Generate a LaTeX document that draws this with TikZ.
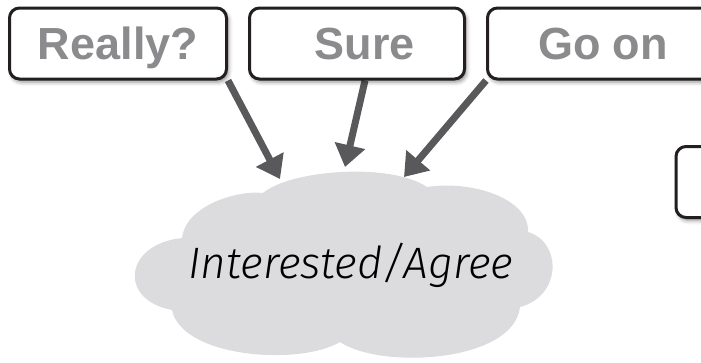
\documentclass[tikz,border=0pt]{standalone}
\usepackage{fontspec}
\setmainfont{Liberation Sans}
\newfontfamily\handfont{Fira Sans Light Italic}
\usetikzlibrary{arrows.meta,shadows.blur,backgrounds}
\definecolor{boxtext}{HTML}{8B8B8E}
\definecolor{arrowgray}{HTML}{59595B}
\definecolor{cloudgray}{HTML}{DCDCDE}
\definecolor{outline}{HTML}{231F20}
\begin{document}
\begin{tikzpicture}[x=1pt,y=-1pt,
  answer/.style={draw=outline, line width=3pt, rounded corners=10pt, fill=white,
    minimum height=71pt, inner sep=0pt, text=boxtext,
    font=\bfseries\fontsize{45}{45}\selectfont, text height=32.4pt, text depth=0pt,
    blur shadow={shadow xshift=2pt, shadow yshift=-3pt, shadow blur radius=4pt, shadow opacity=45}},
  pointer/.style={draw=arrowgray, line width=7pt, -{Triangle[length=22pt,width=30pt]}}]
\useasboundingbox (0,0) rectangle (701,362);
\clip (0,0) rectangle (701,362);

% answer boxes
\node[answer, minimum width=217pt] (really) at (118,43.5) {Really?};
\node[answer, minimum width=215pt] (sure) at (357,43.5) {\hspace*{16pt}Sure};
\node[answer, minimum width=231pt] (goon) at (603,43.5) {Go on};
\node[answer, minimum width=82pt, minimum height=71pt] (next) at (717,182) {};

% feeling cloud and its label
\node[font=\handfont\fontsize{44}{44}\selectfont, text height=31pt, text depth=0pt, inner sep=0pt]
  (feeling) at (351,262.5) {Interested/Agree};

\coordinate (tipA) at (280,179);
\coordinate (tipB) at (345,167);
\coordinate (tipC) at (404,177);

\begin{scope}[on background layer]
  \fill[cloudgray] (263,193)
    .. controls (290,170) and (390,162) .. (427,187)
    .. controls (470,180) and (530,198) .. (528,232)
    .. controls (562,242) and (562,296) .. (520,307)
    .. controls (514,362) and (382,370) .. (340,342)
    .. controls (300,366) and (182,358) .. (172,310)
    .. controls (118,300) and (124,244) .. (182,238)
    .. controls (186,205) and (238,190) .. cycle;
  \draw[pointer] (really.south east) -- (tipA);
  \draw[pointer] ([xshift=8pt]sure.south) -- (tipB);
  \draw[pointer] (goon.south west) -- (tipC);
\end{scope}
\end{tikzpicture}
\end{document}
